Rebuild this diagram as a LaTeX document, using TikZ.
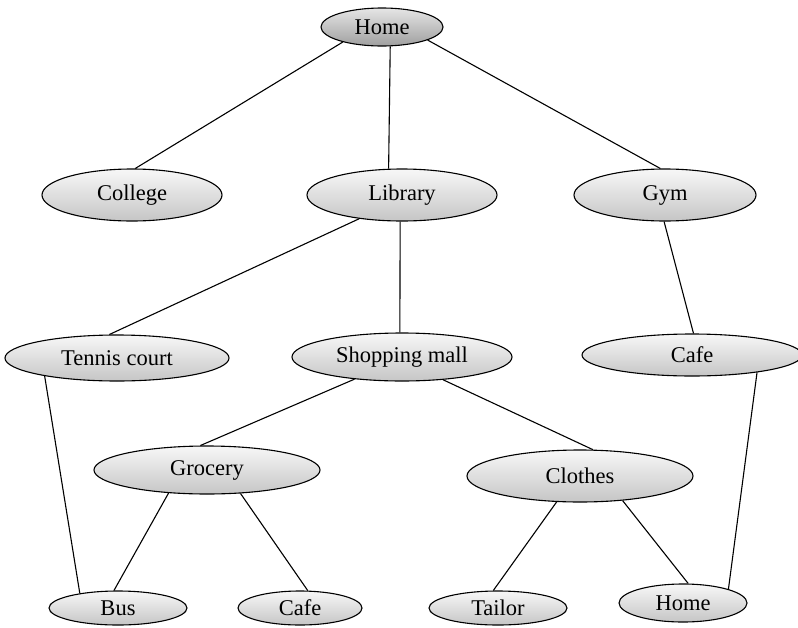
\documentclass[tikz,border=0pt]{standalone}
\usepackage{fontspec}
\setmainfont{Liberation Serif}
\usetikzlibrary{shapes.geometric}
\begin{document}
\begin{tikzpicture}[x=1pt,y=-1pt,
  place/.style={ellipse,draw=black,line width=1.1pt,inner sep=0pt,
    top color=gray!6,bottom color=gray!45,
    font=\fontsize{22.5}{25}\selectfont},
  rootplace/.style={place,top color=gray!20,bottom color=gray!75},
  link/.style={line width=1.1pt}]
\useasboundingbox (0,0) rectangle (798,627);
% places
\node[rootplace,minimum width=122pt,minimum height=38pt] (home) at (382,27) {Home};
\node[place,minimum width=180pt,minimum height=52pt] (college) at (132,195) {College};
\node[place,minimum width=190pt,minimum height=52pt] (library) at (402,195) {Library};
\node[place,minimum width=182pt,minimum height=52pt] (gym) at (665,195) {Gym};
\node[place,minimum width=224pt,minimum height=46pt] (tennis) at (117,358) {Tennis court};
\node[place,minimum width=220pt,minimum height=48pt] (mall) at (402,357) {Shopping mall};
\node[place,minimum width=220pt,minimum height=42pt] (cafeA) at (692,355) {Cafe};
\node[place,minimum width=226pt,minimum height=48pt] (grocery) at (207,470) {Grocery};
\node[place,minimum width=226pt,minimum height=52pt] (clothes) at (580,476) {Clothes};
\node[place,minimum width=138pt,minimum height=34pt] (bus) at (118,608) {Bus};
\node[place,minimum width=124pt,minimum height=34pt] (cafeB) at (300,608) {Cafe};
\node[place,minimum width=138pt,minimum height=34pt] (tailor) at (498,608) {Tailor};
\node[place,minimum width=128pt,minimum height=38pt] (homeB) at (683,603) {Home};
% links
\draw[link] (home.201) -- (college.83);
\draw[link] (home.293) -- (library.117);
\draw[link] (home.344) -- (gym.100);
\draw[link] (library.209) -- (tennis.108);
\draw[link] (library.266) -- (mall.95);
\draw[link] (gym.268) -- (cafeA.86);
\draw[link] (tennis.194) -- (bus.159);
\draw[link] (mall.205) -- (grocery.105);
\draw[link] (mall.331) -- (clothes.64);
\draw[link] (cafeA.345) -- (homeB.17);
\draw[link] (grocery.211) -- (bus.103);
\draw[link] (grocery.325) -- (cafeB.66);
\draw[link] (clothes.228) -- (tailor.105);
\draw[link] (clothes.330) -- (homeB.75);
\end{tikzpicture}
\end{document}
